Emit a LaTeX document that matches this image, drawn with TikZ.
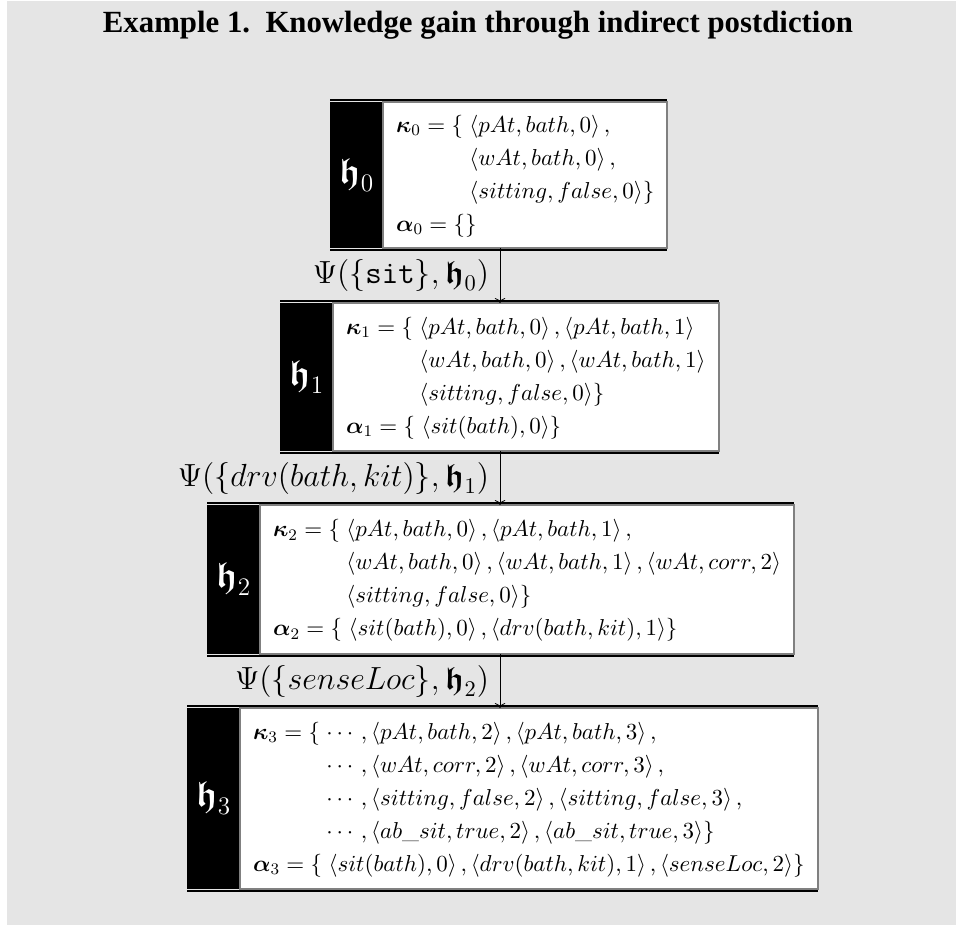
\RequirePackage{fix-cm}
\documentclass[tikz,border=0pt]{standalone}
\usepackage{amsmath}
\usepackage{amssymb}
\usepackage{fontspec}
\newfontfamily\titlefont{Liberation Serif}
\usepackage{tikz}
\usetikzlibrary{arrows.meta}
\usetikzlibrary{positioning}

\definecolor{panelgray}{HTML}{E5E5E5}
\definecolor{framegray}{HTML}{808080}
\newcommand{\tpl}[1]{\langle #1\rangle}
\newcommand{\hist}[1]{\boldsymbol{\mathfrak{h}}_{#1}}

\begin{document}
\begin{tikzpicture}[x=0.5pt,y=-0.5pt,>/.tip={To},
	hlab/.style={fill=black,text=white,anchor=north west,minimum width=26.5pt,inner sep=0pt,outer sep=0pt,font=\fontsize{18}{20}\selectfont},
	hbody/.style={fill=white,draw=framegray,line width=1pt,inner xsep=6.5pt,inner ysep=2pt,outer sep=0pt,font=\fontsize{11.5}{16.5}\selectfont},
	rule/.style={line width=0.8pt},
	trans/.style={left=2pt,font=\fontsize{16}{19}\selectfont}]
	\useasboundingbox (0,0) rectangle (956,927);
	\fill[panelgray] (7,1) rectangle (956,925);
	\node[anchor=base,font=\titlefont\fontsize{15.4}{18}\selectfont\bfseries] (title) at (478,32) {Example 1.\ \ Knowledge gain through indirect postdiction};
	\coordinate (ax) at (500,0);
	% h0
	\node[hlab,minimum height=73pt] (lab0) at (330,102) {$\hist{0}$};
	\node[hbody,minimum height=73pt,right=0pt of lab0] (st0) {$\begin{array}{@{}l@{}l@{}}
		\boldsymbol{\kappa}_0 = \{\; & \tpl{pAt, bath, 0}\,, \\
		& \tpl{wAt, bath, 0}\,, \\
		& \tpl{sitting, false, 0}\} \\
		\multicolumn{2}{@{}l@{}}{\boldsymbol{\alpha}_0 = \{\}}
	\end{array}$};
	% h1
	\node[hlab,minimum height=74pt] (lab1) at (280,303) {$\hist{1}$};
	\node[hbody,minimum height=74pt,right=0pt of lab1] (st1) {$\begin{array}{@{}l@{}l@{}}
		\boldsymbol{\kappa}_1 = \{\; & \tpl{pAt, bath, 0}\,, \tpl{pAt, bath, 1} \\
		& \tpl{wAt, bath, 0}\,, \tpl{wAt, bath, 1} \\
		& \tpl{sitting, false, 0}\} \\
		\multicolumn{2}{@{}l@{}}{\boldsymbol{\alpha}_1 = \{\; \tpl{sit(bath), 0}\}}
	\end{array}$};
	% h2
	\node[hlab,minimum height=74.5pt] (lab2) at (207,505) {$\hist{2}$};
	\node[hbody,minimum height=74.5pt,right=0pt of lab2] (st2) {$\begin{array}{@{}l@{}l@{}}
		\boldsymbol{\kappa}_2 = \{\; & \tpl{pAt, bath, 0}\,, \tpl{pAt, bath, 1}\,, \\
		& \tpl{wAt, bath, 0}\,, \tpl{wAt, bath, 1}\,, \tpl{wAt, corr, 2} \\
		& \tpl{sitting, false, 0}\} \\
		\multicolumn{2}{@{}l@{}}{\boldsymbol{\alpha}_2 = \{\; \tpl{sit(bath), 0}\,, \tpl{drv(bath, kit), 1}\}}
	\end{array}$};
	% h3
	\node[hlab,minimum height=90.5pt] (lab3) at (187,708) {$\hist{3}$};
	\node[hbody,minimum height=90.5pt,right=0pt of lab3] (st3) {$\begin{array}{@{}l@{}l@{}}
		\boldsymbol{\kappa}_3 = \{\; & \cdots, \tpl{pAt, bath, 2}\,, \tpl{pAt, bath, 3}\,, \\
		& \cdots, \tpl{wAt, corr, 2}\,, \tpl{wAt, corr, 3}\,, \\
		& \cdots, \tpl{sitting, false, 2}\,, \tpl{sitting, false, 3}\,, \\
		& \cdots, \tpl{ab\_sit, true, 2}\,, \tpl{ab\_sit, true, 3}\} \\
		\multicolumn{2}{@{}l@{}}{\boldsymbol{\alpha}_3 = \{\; \tpl{sit(bath), 0}\,, \tpl{drv(bath, kit), 1}\,, \tpl{senseLoc, 2}\}}
	\end{array}$};
	% frame rules
	\foreach \i in {0,1,2,3} {
		\draw[rule] ([yshift=0.9pt]lab\i.north west) -- ([yshift=0.9pt]st\i.north east);
		\draw[rule] ([yshift=-0.9pt]lab\i.south west) -- ([yshift=-0.9pt]st\i.south east);
	}
	% transitions
	\draw[->] (st0.south -| ax) -- (st1.north -| ax) node[midway,trans] {$\Psi(\{\texttt{sit}\}, \hist{0})$};
	\draw[->] (st1.south -| ax) -- (st2.north -| ax) node[midway,trans] {$\Psi(\{drv(bath, kit)\}, \hist{1})$};
	\draw[->] (st2.south -| ax) -- (st3.north -| ax) node[midway,trans] {$\Psi(\{senseLoc\}, \hist{2})$};
\end{tikzpicture}
\end{document}
